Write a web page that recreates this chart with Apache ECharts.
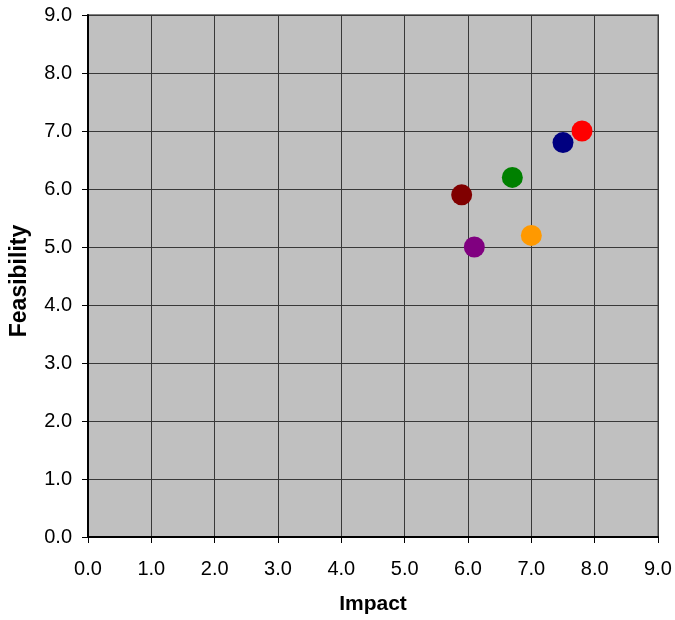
<!DOCTYPE html>
<html>
<head>
<meta charset="utf-8">
<script src="https://cdn.jsdelivr.net/npm/echarts@6/dist/echarts.min.js"></script>
<style>
  html, body { margin: 0; padding: 0; background: #ffffff; }
  #chart { width: 675px; height: 620px; }
</style>
</head>
<body>
<div id="chart"></div>
<script>
// Impact / feasibility positions of each initiative
const impact      = [5.9, 6.1, 6.7, 7.0, 7.5, 7.8];
const feasibility = [5.9, 5.0, 6.2, 5.2, 6.8, 7.0];
const pointColors = ['#800000', '#800080', '#008000', '#ff9900', '#000080', '#ff0000'];

const xAxisName = 'Impact';
const yAxisName = 'Feasibility';

const FONT = '"Liberation Sans", Arial, sans-serif';

const chart = echarts.init(document.getElementById('chart'), null, { renderer: 'canvas' });

const series = impact.map((x, i) => ({
  type: 'scatter',
  data: [[x, feasibility[i]]],
  symbol: 'circle',
  symbolSize: 21,
  itemStyle: { color: pointColors[i], opacity: 1 },
  z: 5
}));

const axisCommon = {
  min: 0,
  max: 9,
  interval: 1,
  axisLine: { show: true, onZero: false, lineStyle: { color: '#000000', width: 2 } },
  axisTick: { show: true, inside: false, length: 6, lineStyle: { color: '#000000', width: 1 } },
  splitLine: { show: true, lineStyle: { color: '#383838', width: 1 } },
  axisLabel: {
    color: '#000000',
    fontFamily: FONT,
    fontSize: 20,
    formatter: v => v.toFixed(1)
  }
};

chart.setOption({
  animation: false,
  backgroundColor: '#ffffff',
  grid: {
    left: 88, top: 15, right: 17, bottom: 82,
    show: true,
    backgroundColor: '#c0c0c0',
    borderColor: '#808080',
    borderWidth: 2
  },
  xAxis: Object.assign({}, axisCommon, {
    type: 'value',
    name: xAxisName,
    nameLocation: 'middle',
    nameGap: 57,
    nameTextStyle: { color: '#000000', fontFamily: FONT, fontSize: 21, fontWeight: 'bold' },
    axisLabel: Object.assign({}, axisCommon.axisLabel, { margin: 22 })
  }),
  yAxis: Object.assign({}, axisCommon, {
    type: 'value',
    name: yAxisName,
    nameLocation: 'middle',
    nameGap: 57,
    nameRotate: 90,
    nameTextStyle: {
      color: '#000000', fontFamily: FONT, fontSize: 23, fontWeight: 'bold',
      padding: [0, 10, 0, 0]
    },
    axisLabel: Object.assign({}, axisCommon.axisLabel, { margin: 16 })
  }),
  series: series
});
</script>
</body>
</html>
